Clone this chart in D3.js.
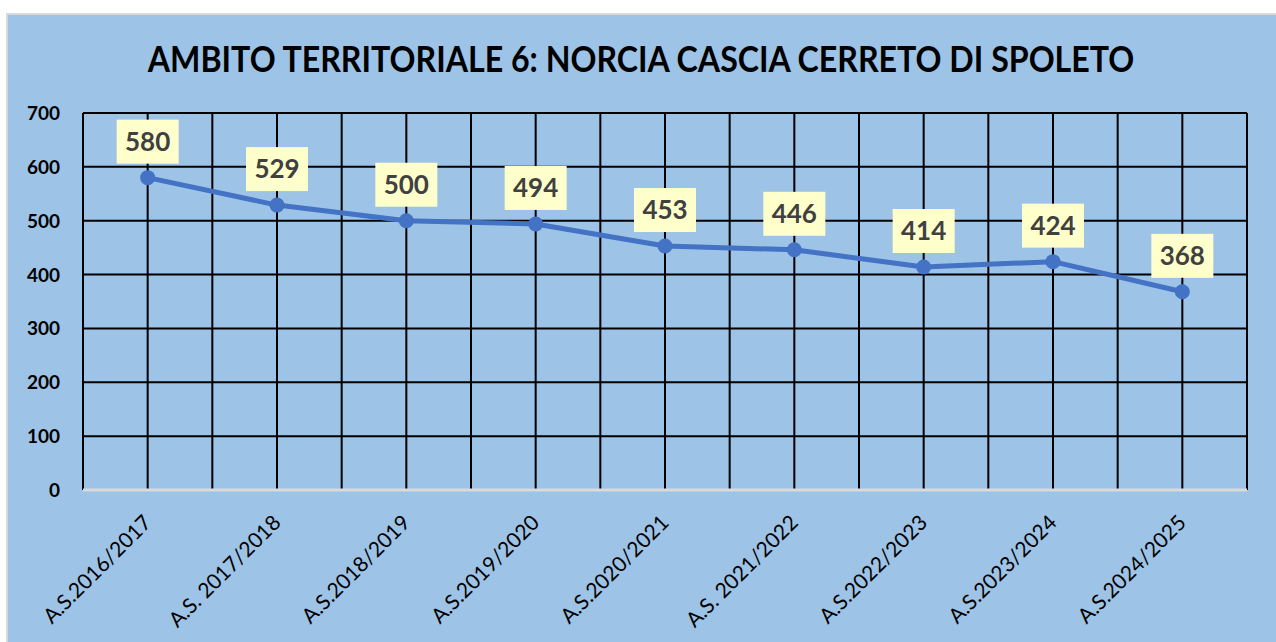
<!DOCTYPE html>
<html>
<head>
<meta charset="utf-8">
<script src="https://cdn.jsdelivr.net/npm/d3@7"></script>
<style>
  html, body { margin: 0; padding: 0; background: #fff; }
  svg { display: block; }
</style>
</head>
<body>
<div id="chart"></div>
<script>
// data
const categories = ['A.S.2016/2017', 'A.S. 2017/2018', 'A.S.2018/2019', 'A.S.2019/2020',
    'A.S.2020/2021', 'A.S. 2021/2022', 'A.S.2022/2023', 'A.S.2023/2024', 'A.S.2024/2025'];
const values = [580, 529, 500, 494, 453, 446, 414, 424, 368];
const yTicks = [0, 100, 200, 300, 400, 500, 600, 700];
const chartTitle = 'AMBITO TERRITORIALE 6: NORCIA CASCIA CERRETO DI SPOLETO';

const W = 1276, H = 642;
const margin = {top: 113, right: 29, bottom: 152, left: 83};
const innerW = W - margin.left - margin.right;
const innerH = H - margin.top - margin.bottom;

const svg = d3.select('#chart').append('svg')
    .attr('width', W)
    .attr('height', H);

// chart area background with grey border
svg.append('rect')
    .attr('x', 7).attr('y', 14)
    .attr('width', W - 6).attr('height', H)
    .attr('fill', '#9DC3E6')
    .attr('stroke', '#d9d9d9')
    .attr('stroke-width', 2);

// title: squeeze horizontally to the width the reference has (Calibri is narrow)
const titleText = svg.append('text')
    .attr('text-anchor', 'middle')
    .attr('font-family', 'Lato, sans-serif')
    .attr('font-weight', 'bold')
    .attr('font-size', '37px')
    .attr('fill', '#000')
    .text(chartTitle);
const natural = titleText.node().getComputedTextLength();
const sx = Math.min(1, 987 / natural);
titleText.attr('transform', `translate(641, 72) scale(${sx}, 1)`);

const g = svg.append('g')
    .attr('transform', `translate(${margin.left}, ${margin.top})`);

const x = d3.scaleBand()
    .domain(categories)
    .range([0, innerW])
    .padding(0);

const y = d3.scaleLinear()
    .domain([0, 700])
    .range([innerH, 0]);

// horizontal grid
g.append('g')
    .selectAll('line')
    .data(yTicks.filter(d => d > 0))
    .enter()
    .append('line')
    .attr('x1', 0).attr('x2', innerW)
    .attr('y1', d => y(d)).attr('y2', d => y(d))
    .attr('stroke', '#000')
    .attr('stroke-width', 2);

// vertical grid: category edges and centres
const vLines = [];
categories.forEach(c => {
    vLines.push(x(c));
    vLines.push(x(c) + x.bandwidth() / 2);
});
vLines.push(x.range()[1]);

g.append('g')
    .selectAll('line')
    .data(vLines)
    .enter()
    .append('line')
    .attr('x1', d => d).attr('x2', d => d)
    .attr('y1', 0).attr('y2', innerH)
    .attr('stroke', '#000')
    .attr('stroke-width', 2);

// zero line
g.append('line')
    .attr('x1', 0).attr('x2', innerW)
    .attr('y1', y(0)).attr('y2', y(0))
    .attr('stroke', '#d9d9d9')
    .attr('stroke-width', 3);

// y axis labels
g.append('g')
    .selectAll('text')
    .data(yTicks)
    .enter()
    .append('text')
    .attr('x', -23)
    .attr('y', d => y(d) + 7)
    .attr('text-anchor', 'end')
    .attr('font-family', 'Lato, sans-serif')
    .attr('font-weight', 'bold')
    .attr('font-size', '19px')
    .attr('fill', '#000')
    .text(d => d);

// x axis labels
g.append('g')
    .selectAll('text')
    .data(categories)
    .enter()
    .append('text')
    .attr('transform', d => `translate(${x(d) + x.bandwidth() / 2 + 5}, ${innerH + 34}) rotate(-45)`)
    .attr('text-anchor', 'end')
    .attr('font-family', 'Lato, sans-serif')
    .attr('font-size', '21px')
    .attr('fill', '#000')
    .text(d => d);

const cx = (d, i) => x(categories[i]) + x.bandwidth() / 2;

// line
const line = d3.line()
    .x((d, i) => cx(d, i))
    .y(d => y(d));

g.append('path')
    .datum(values)
    .attr('d', line)
    .attr('fill', 'none')
    .attr('stroke', '#4472C4')
    .attr('stroke-width', 5)
    .attr('stroke-linejoin', 'round');

g.selectAll('circle.pt')
    .data(values)
    .enter()
    .append('circle')
    .attr('class', 'pt')
    .attr('cx', cx)
    .attr('cy', d => y(d))
    .attr('r', 7.5)
    .attr('fill', '#4472C4');

// data labels
const labels = g.selectAll('g.lbl')
    .data(values)
    .enter()
    .append('g')
    .attr('class', 'lbl')
    .attr('transform', (d, i) => `translate(${cx(d, i)}, ${y(d) - 36})`);

labels.append('rect')
    .attr('x', -31).attr('y', -22)
    .attr('width', 62).attr('height', 44)
    .attr('fill', '#FFFFCC');

labels.append('text')
    .attr('text-anchor', 'middle')
    .attr('y', 9)
    .attr('font-family', 'Lato, sans-serif')
    .attr('font-weight', 'bold')
    .attr('font-size', '26px')
    .attr('fill', '#404040')
    .text(d => d);
</script>
</body>
</html>
